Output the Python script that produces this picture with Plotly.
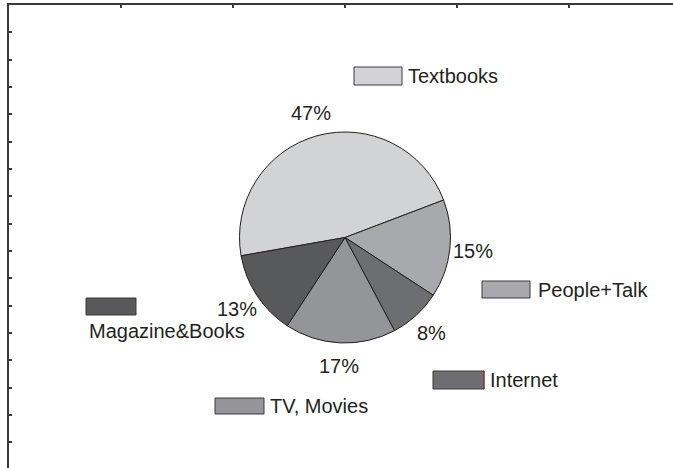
import math
import plotly.graph_objects as go

# Share of sources, drawn clockwise
categories = ["Textbooks", "People+Talk", "Internet", "TV, Movies", "Magazine&Books"]
shares = [47, 15, 8, 17, 13]
pct_labels = ["47%", "15%", "8%", "17%", "13%"]
slice_colors = ["#d1d3d4", "#a7a9ac", "#6d6e71", "#939598", "#58595b"]

W, H = 673, 468
ML, MT = 9, 5                     # frame offset (left / top)
PW, PH = W - ML, H - MT           # plot-area size in px

# pie placement (px in page coords)
CX, CY, R = 345.0, 237.5, 105.5
ROT = -100                        # start angle of first slice, degrees clockwise from 12 o'clock
LABEL_R = 129.0

# legend key boxes: (x0, y0, x1, y1) and text anchor (x, y), page px
key_boxes = [(354, 67, 402, 85), (482, 281, 530, 298), (433, 371, 484, 389),
             (215, 398, 264, 414), (86, 298, 136, 315)]
key_text = [(406, 76), (536, 290), (488, 380), (268, 406), (87, 331)]

FONT = dict(family="Liberation Sans, Arial, sans-serif", size=20, color="#231f20")
FRAME = "#3a3a3a"


def px_x(x):
    return x - ML


def px_y(y):
    return y - MT


fig = go.Figure()

fig.add_trace(go.Pie(
    labels=categories,
    values=shares,
    sort=False,
    direction="clockwise",
    rotation=ROT,
    marker=dict(colors=slice_colors, line=dict(color="#231f20", width=1)),
    textinfo="none",
    hoverinfo="label+percent",
    showlegend=False,
    domain=dict(
        x=[(CX - R - ML) / PW, (CX + R - ML) / PW],
        y=[1 - (CY + R - MT) / PH, 1 - (CY - R - MT) / PH],
    ),
))

# an invisible scatter keeps the cartesian frame (axes with ticks) on screen
fig.add_trace(go.Scatter(x=[0], y=[0], mode="markers",
                         marker=dict(opacity=0), hoverinfo="skip", showlegend=False))

annotations = []
shapes = []

# percentage labels at each slice's middle angle
total = sum(shares)
start = ROT
for v, lab in zip(shares, pct_labels):
    mid = math.radians(start + 360 * v / total / 2)
    start += 360 * v / total
    lx = CX + LABEL_R * math.sin(mid)
    ly = CY - LABEL_R * math.cos(mid)
    annotations.append(dict(x=px_x(lx), y=px_y(ly), xref="x", yref="y",
                            text=lab, showarrow=False, font=FONT,
                            xanchor="center", yanchor="middle"))

# scattered legend keys
for name, col, (x0, y0, x1, y1), (tx, ty) in zip(categories, slice_colors, key_boxes, key_text):
    shapes.append(dict(type="rect", xref="x", yref="y",
                       x0=px_x(x0), y0=px_y(y0), x1=px_x(x1), y1=px_y(y1),
                       fillcolor=col, line=dict(color="#3a3a3a", width=1)))
    annotations.append(dict(x=px_x(tx), y=px_y(ty), xref="x", yref="y",
                            text=name, showarrow=False, font=FONT,
                            xanchor="left", yanchor="middle"))

# thin red edge on the Internet key
ix0, iy0, ix1, iy1 = key_boxes[2]
shapes.append(dict(type="line", xref="x", yref="y",
                   x0=px_x(ix1), y0=px_y(iy0), x1=px_x(ix1), y1=px_y(iy1),
                   line=dict(color="#c0272d", width=1)))

fig.update_layout(
    width=W, height=H,
    margin=dict(l=ML, r=0, t=MT, b=0),
    paper_bgcolor="white", plot_bgcolor="white",
    xaxis=dict(range=[0, PW], side="top", showline=True, linecolor=FRAME, linewidth=2,
               ticks="inside", ticklen=3, tickwidth=2, tickcolor=FRAME,
               tick0=0, dtick=112, showticklabels=False, showgrid=False,
               zeroline=False, fixedrange=True),
    yaxis=dict(range=[PH, 0], showline=True, linecolor=FRAME, linewidth=2,
               ticks="inside", ticklen=3, tickwidth=2, tickcolor=FRAME,
               tick0=0, dtick=27.33, showticklabels=False, showgrid=False,
               zeroline=False, fixedrange=True),
    shapes=shapes,
    annotations=annotations,
)

fig.write_html("out.html")
